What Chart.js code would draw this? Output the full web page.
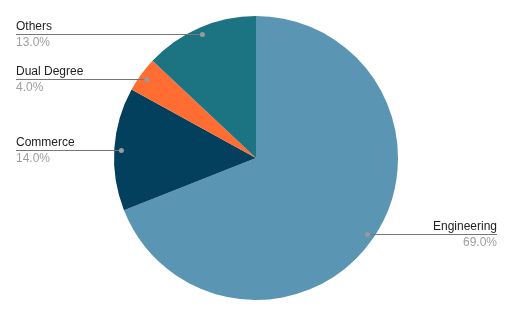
<!DOCTYPE html>
<html>
<head>
<meta charset="utf-8">
<script src="https://cdn.jsdelivr.net/npm/chart.js@4/dist/chart.umd.min.js"></script>
<style>
  html, body { margin: 0; padding: 0; background: #fff; }
  #wrap { width: 512px; height: 316px; }
</style>
</head>
<body>
<div id="wrap"><canvas id="pie"></canvas></div>
<script>
const categories = ['Engineering', 'Commerce', 'Dual Degree', 'Others'];
const shares = [69.0, 14.0, 4.0, 13.0];
const sliceColors = ['#5a95b3', '#03405e', '#ff6d33', '#1c7482'];

// leader lines + labels, drawn the way sheets does it
const leaderLabels = {
    id: 'leaderLabels',
    afterDraw(chart) {
        const ctx = chart.ctx;
        const meta = chart.getDatasetMeta(0);
        ctx.save();
        meta.data.forEach((arc, i) => {
            const mid = (arc.startAngle + arc.endAngle) / 2;
            const r = arc.outerRadius * 0.95;
            const px = arc.x + Math.cos(mid) * r;
            const py = Math.round(arc.y + Math.sin(mid) * r);
            const right = px > arc.x;
            const endX = right ? chart.width - 15 : 16;

            ctx.strokeStyle = '#777';
            ctx.lineWidth = 1;
            ctx.beginPath();
            ctx.moveTo(px, py + 0.5);
            ctx.lineTo(endX, py + 0.5);
            ctx.stroke();

            ctx.fillStyle = '#9a9a9a';
            ctx.beginPath();
            ctx.arc(px, py + 0.5, 2.5, 0, Math.PI * 2);
            ctx.fill();

            ctx.font = '12px Arial, "Liberation Sans", sans-serif';
            ctx.textAlign = right ? 'right' : 'left';
            ctx.textBaseline = 'alphabetic';
            ctx.fillStyle = '#222';
            ctx.fillText(categories[i], endX, py - 4);
            ctx.fillStyle = '#9e9e9e';
            ctx.fillText(shares[i].toFixed(1) + '%', endX, py + 12);
        });
        ctx.restore();
    }
};

new Chart(document.getElementById('pie'), {
    type: 'pie',
    data: {
        labels: categories,
        datasets: [{
            data: shares,
            backgroundColor: sliceColors,
            borderWidth: 0
        }]
    },
    options: {
        responsive: true,
        maintainAspectRatio: false,
        animation: false,
        layout: { padding: { top: 16, bottom: 16 } },
        plugins: {
            legend: { display: false },
            tooltip: { enabled: false }
        }
    },
    plugins: [leaderLabels]
});
</script>
</body>
</html>
